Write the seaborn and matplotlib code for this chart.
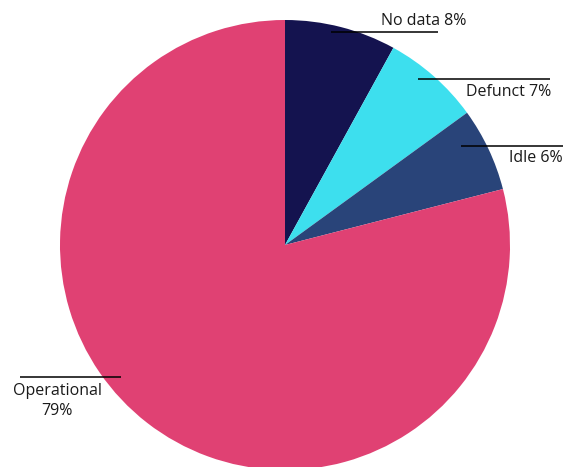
import matplotlib
matplotlib.use("Agg")
import matplotlib.pyplot as plt
import seaborn as sns

sns.set_theme(style="white")
plt.rcParams['font.family'] = ['Open Sans', 'DejaVu Sans']

categories = ["No data", "Defunct", "Idle", "Operational"]
values = [8, 7, 6, 79]
colors = ["#14134f", "#3ddfee", "#294479", "#e04173"]

W, H = 571, 467
fig = plt.figure(figsize=(W / 100, H / 100), dpi=100)
ax = fig.add_axes([0, 0, 1, 1])

# pie in pixel coordinates (y inverted, so counterclock=True draws clockwise on screen)
ax.pie(values, colors=colors, startangle=-90, counterclock=True,
       center=(285, 245), radius=225, wedgeprops=dict(linewidth=0),
       frame=True)
ax.set_xlim(0, W)
ax.set_ylim(H, 0)
ax.set_aspect("equal")
ax.axis("off")

# leader lines and labels
lines = {
    "No data": ((331, 438), 32),
    "Defunct": ((418, 550), 79),
    "Idle": ((461, 563), 146),
    "Operational": ((20, 121), 377),
}
for cat, ((x0, x1), y) in lines.items():
    ax.plot([x0, x1], [y, y], color="black", lw=1.1, solid_capstyle="butt")

fs = 11.5
tc = "#1a1a1a"
ax.text(466, 21, f"{categories[0]} {values[0]}%", ha="right", va="center", fontsize=fs, color=tc)
ax.text(551, 92, f"{categories[1]} {values[1]}%", ha="right", va="center", fontsize=fs, color=tc)
ax.text(563, 158, f"{categories[2]} {values[2]}%", ha="right", va="center", fontsize=fs, color=tc)
ax.text(57, 401, f"{categories[3]}\n{values[3]}%", ha="center", va="center", fontsize=fs,
        color=tc, linespacing=1.3)

fig.savefig("out.png", dpi=100)
